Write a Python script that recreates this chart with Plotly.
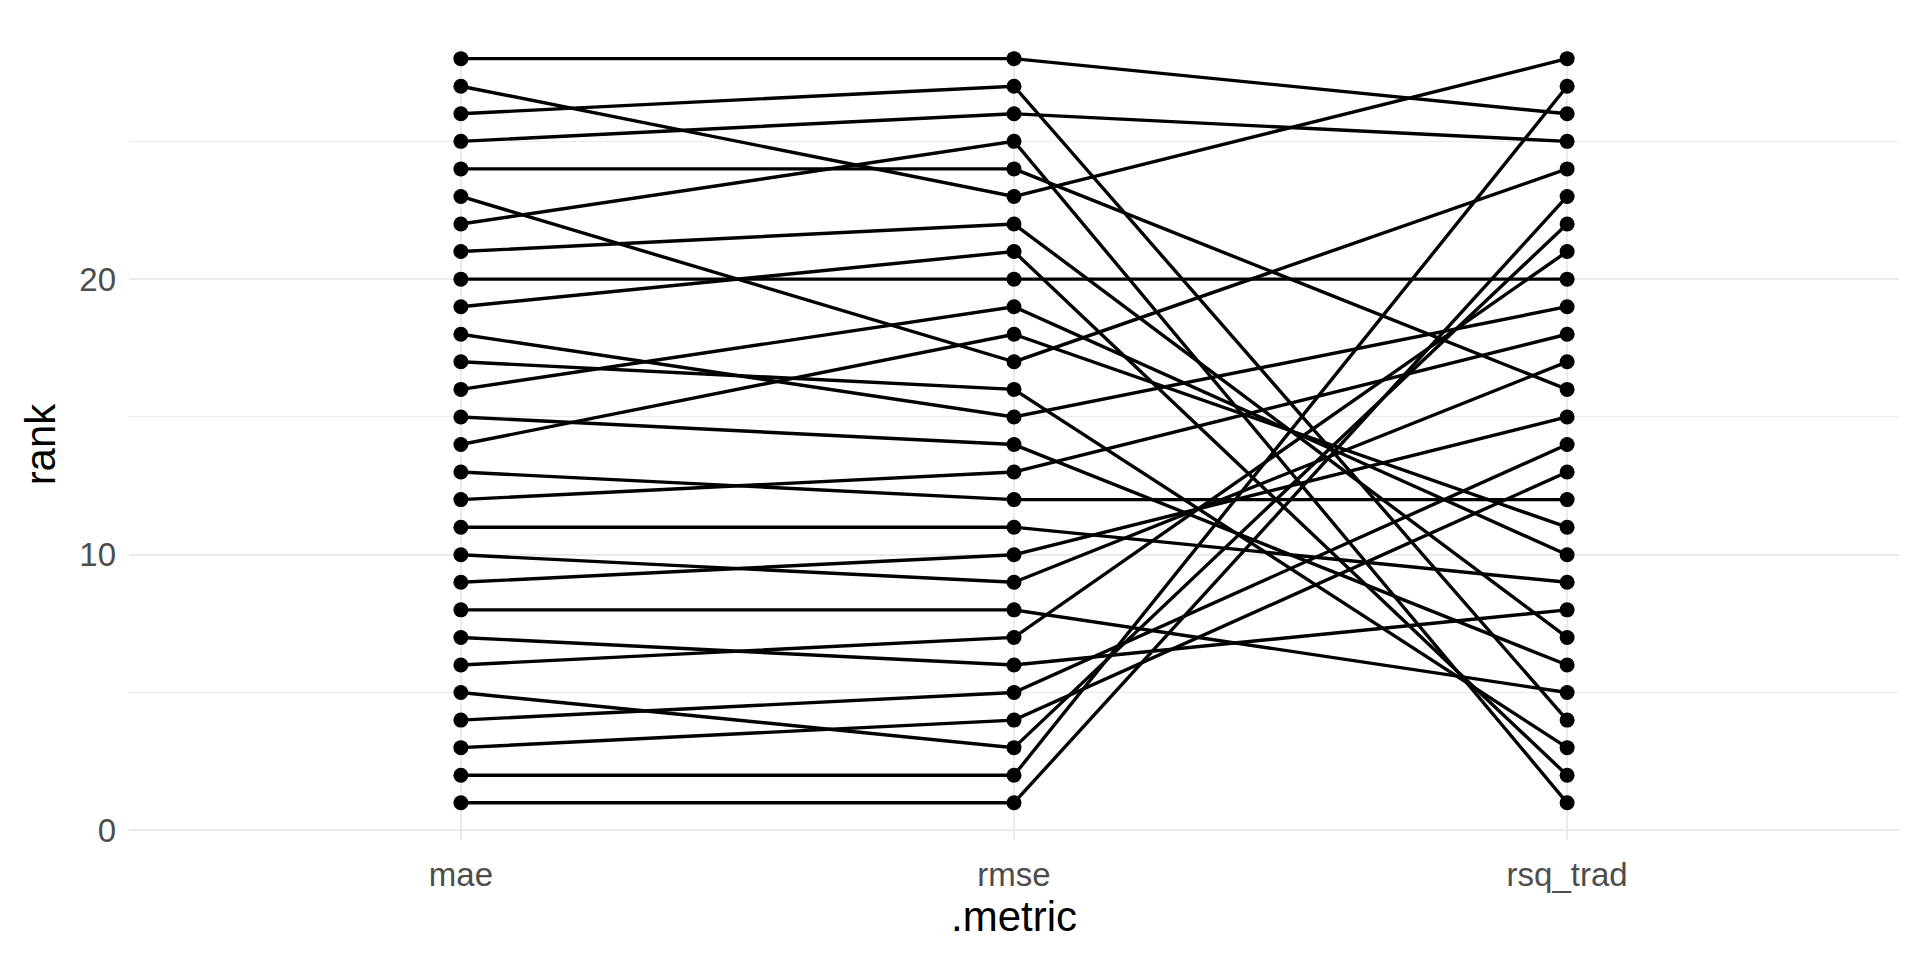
import plotly.graph_objects as go

metrics = ["mae", "rmse", "rsq_trad"]

# rank of each model under each metric (models ordered by mae rank)
mae_rank = list(range(1, 29))
rmse_rank = [1, 2, 4, 5, 3, 7, 6, 8, 10, 9, 11, 13, 12, 18, 14, 19, 16, 15, 21, 20,
             22, 25, 17, 24, 26, 27, 23, 28]
rsq_rank = [23, 27, 13, 14, 22, 21, 8, 5, 15, 17, 9, 18, 12, 11, 6, 10, 3, 19, 2, 20,
            7, 1, 24, 16, 25, 4, 28, 26]

y_ticks = [0, 10, 20]

fig = go.Figure()
for a, b, c in zip(mae_rank, rmse_rank, rsq_rank):
    fig.add_trace(go.Scatter(
        x=metrics, y=[a, b, c], mode="lines+markers",
        line=dict(color="black", width=3.4),
        marker=dict(color="black", size=15),
        showlegend=False, hoverinfo="x+y",
    ))

font_family = "Liberation Sans, Arial, sans-serif"
fig.update_layout(
    width=1920, height=960,
    paper_bgcolor="white", plot_bgcolor="white",
    margin=dict(l=121, r=29, t=41, b=128, autoexpand=False),
    font=dict(family=font_family),
)
fig.update_xaxes(
    type="category", categoryorder="array", categoryarray=metrics,
    range=[-0.6, 2.6], showgrid=True, gridcolor="#EBEBEB", gridwidth=2.4,
    zeroline=False, showline=False, ticks="",
    tickfont=dict(size=33, color="#4D4D4D"),
    title=dict(text=".metric", font=dict(size=42, color="black"), standoff=4),
    automargin=False, ticklabelstandoff=12,
)
fig.update_yaxes(
    range=[-0.35, 28.35], tickvals=y_ticks, ticktext=[str(v) for v in y_ticks],
    showgrid=True, gridcolor="#EBEBEB", gridwidth=2.4,
    minor=dict(tickvals=[5, 15, 25], showgrid=True, gridcolor="#EBEBEB", gridwidth=1.2),
    zeroline=False, showline=False, ticks="",
    tickfont=dict(size=33, color="#4D4D4D"),
    title=dict(text="rank", font=dict(size=42, color="black"), standoff=10),
    automargin=False, ticklabelstandoff=12,
)

fig.write_html("out.html")
